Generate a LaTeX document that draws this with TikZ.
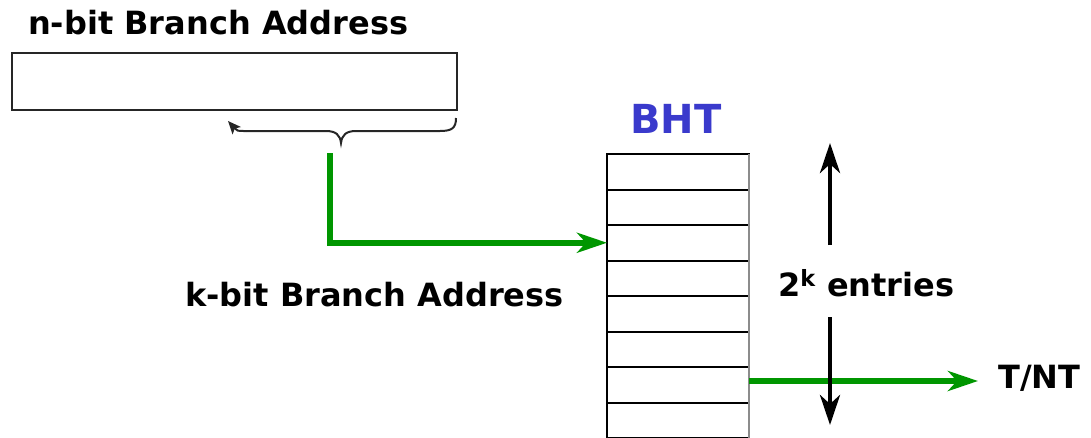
\documentclass[tikz,border=0pt]{standalone}
\usepackage{fontspec}
\setmainfont{DejaVu Sans}
\usetikzlibrary{arrows.meta}
\definecolor{grn}{RGB}{0,150,0}
\definecolor{bhtblue}{RGB}{58,58,204}
\begin{document}
\begin{tikzpicture}[x=1pt,y=-1pt,
 lbl/.style={font=\fontsize{32}{32}\selectfont\bfseries, inner sep=0pt, anchor=base west},
 row/.style={draw=black, line width=2pt, minimum width=142pt, minimum height=35.5pt, inner sep=0pt, outer sep=0pt},
 garrow/.style={draw=grn, line width=5.5pt, -{Stealth[length=30pt,width=20pt,inset=9pt]}},
 karrow/.style={draw=black, line width=4.5pt, -{Stealth[length=30pt,width=20pt,inset=9pt]}},
 brace/.style={draw=black!85, line width=2pt}
]
\useasboundingbox (0,0) rectangle (1091,437);
\begin{scope}
\clip (0,0) rectangle (1091,437);
% labels
\node[lbl] (nlbl) at (28,34) {n-bit Branch Address};
\node[lbl] (klbl) at (185,306) {k-bit Branch Address};
\node[font=\fontsize{40}{40}\selectfont\bfseries, text=bhtblue, inner sep=0pt, anchor=base] (bht) at (676,133) {BHT};
\node[lbl] (entries) at (778,296) {2\textsuperscript{k} entries};
\node[lbl] (tnt) at (998,388) {T/NT};
% address register
\node[draw=black!85, line width=2pt, minimum width=445pt, minimum height=57pt, inner sep=0pt, anchor=north west] (addr) at (11,52) {};
% brace
\coordinate (brR) at (456,118);
\coordinate (brtip) at (341,143);
\coordinate (brL) at (228,121);
\draw[brace] (brR) .. controls (456,128) and (452,131) .. (440,131) -- (356,131)
  .. controls (346,131) and (342,135) .. (brtip)
  .. controls (340,135) and (336,131) .. (326,131) -- (246,131);
\draw[brace, -{Stealth[length=13pt,width=11pt,inset=3pt]}] (246,131) .. controls (237,131) .. (brL);
% BHT rows
\foreach \i in {1,...,8} {
  \node[row] (r\i) at (678, 154+35.5*\i-17.75) {};
}
\draw[black!45, line width=2pt] (r1.north east) -- (r8.south east);
% k-bit arrow
\coordinate (kstart) at (330,153);
\draw[garrow] (kstart) |- (r3.west);
% T/NT arrow
\coordinate (tntstart) at (749,381);
\coordinate (tntend) at (978,381);
\draw[garrow] (tntstart) -- (tntend);
% 2^k arrows
\coordinate (upb) at (830,245);
\coordinate (upt) at (830,143);
\coordinate (dnb) at (830,317);
\coordinate (dnt) at (830,425);
\draw[karrow] (upb) -- (upt);
\draw[karrow] (dnb) -- (dnt);
\end{scope}
\end{tikzpicture}
\end{document}
